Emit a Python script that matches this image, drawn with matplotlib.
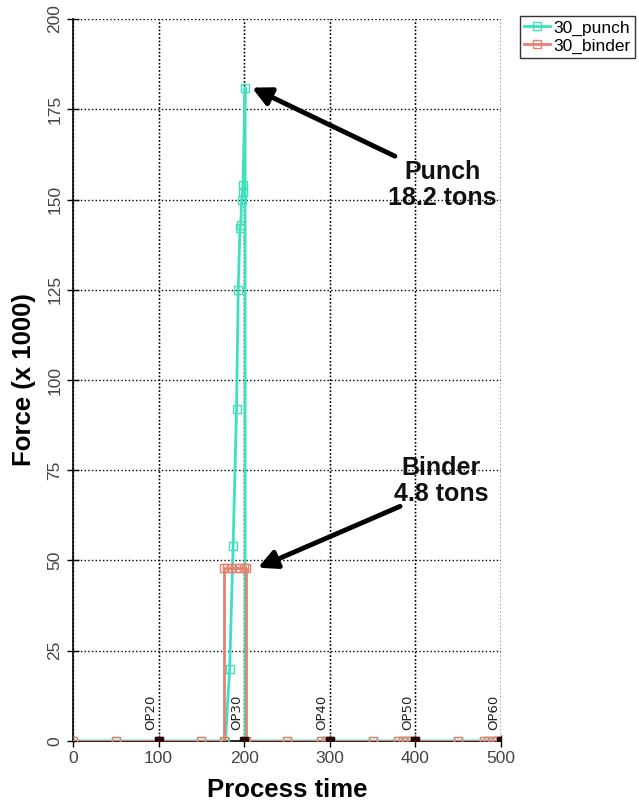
import matplotlib.pyplot as plt
import numpy as np

# punch curve (x = process time, y = force x 1000)
punch_t = [0, 50, 100, 150, 178, 183, 187, 191, 193, 195, 196, 197, 198, 198.5, 201,
           201, 250, 290, 295, 300, 350, 380, 385, 390, 395, 400, 450, 480, 485, 490, 495, 500]
punch_f = [0, 0, 0, 0, 0, 20, 54, 92, 125, 142, 143, 150, 152, 154, 181,
           0, 0, 0, 0, 0, 0, 0, 0, 0, 0, 0, 0, 0, 0, 0, 0, 0]

# binder curve
binder_t = [0, 50, 100, 150, 176, 176, 180, 185, 190, 195, 200, 202, 202,
            250, 290, 295, 300, 350, 380, 385, 390, 395, 400, 450, 480, 485, 490, 495, 500]
binder_f = [0, 0, 0, 0, 0, 48, 48, 48, 48, 48, 48, 48, 0,
            0, 0, 0, 0, 0, 0, 0, 0, 0, 0, 0, 0, 0, 0, 0, 0]

# operation markers
op_names = ['OP20', 'OP30', 'OP40', 'OP50', 'OP60']
op_t = [100, 200, 300, 400, 500]

punch_col = '#3EE0BE'
binder_col = '#E5826F'

plt.rcParams['font.family'] = ['Liberation Sans', 'DejaVu Sans']

fig = plt.figure(figsize=(6.39, 8.10), dpi=100)
ax = fig.add_axes([0.1142, 0.0852, 0.6700, 0.8913])

ax.plot(punch_t, punch_f, color=punch_col, lw=2, marker='s', ms=6,
        mfc='none', mec=punch_col, mew=1, label='30_punch', zorder=3)
ax.plot(binder_t, binder_f, color=binder_col, lw=2, marker='s', ms=6,
        mfc='none', mec=binder_col, mew=1, label='30_binder', zorder=4)

for name, t in zip(op_names, op_t):
    ax.axvline(t, color='black', ls=':', lw=1, zorder=1)
    ax.text(t - 1.5, 3, name, rotation=90, ha='right', va='bottom', fontsize=9.5,
            family='DejaVu Sans', color='#222222')
    ax.plot(t, 0, marker='s', ms=6, color='#2a0505', zorder=5)

ax.set_xlim(0, 500)
ax.set_ylim(0, 200)
ax.set_xticks(np.arange(0, 501, 100))
ax.set_yticks(np.arange(0, 201, 25))
ax.grid(True, color='black', ls=':', lw=1)
ax.set_axisbelow(True)
for s in ['top', 'right']:
    ax.spines[s].set_visible(False)
ax.spines['left'].set_linewidth(1.2)
ax.spines['bottom'].set_linewidth(1.2)
ax.tick_params(direction='inout', length=8, width=1, labelsize=12.5, labelcolor='#444444')
plt.setp(ax.get_yticklabels(), rotation=90, va='center')

ax.set_xlabel('Process time', fontsize=18.5, fontweight='bold', labelpad=8)
ax.set_ylabel('Force (x 1000)', fontsize=18.5, fontweight='bold', labelpad=8)

# callouts
ax.text(431, 154, 'Punch\n18.2 tons', fontsize=18, fontweight='bold',
        ha='center', va='center', linespacing=1.1, color='#111111')
ax.annotate('', xy=(209, 181), xytext=(376, 162),
            arrowprops=dict(arrowstyle='-|>', color='black', lw=3.5, mutation_scale=28,
                            shrinkA=0, shrinkB=0))
ax.text(430, 72, 'Binder\n4.8 tons', fontsize=18, fontweight='bold',
        ha='center', va='center', linespacing=1.1, color='#111111')
ax.annotate('', xy=(216, 48), xytext=(382, 65),
            arrowprops=dict(arrowstyle='-|>', color='black', lw=3.5, mutation_scale=28,
                            shrinkA=0, shrinkB=0))

leg = fig.legend(loc='upper right', bbox_to_anchor=(635 / 639, 1 - 16 / 810),
                 fontsize=12.5, frameon=True, fancybox=False, edgecolor='black',
                 handlelength=1.5, handletextpad=0.2, borderpad=0.25, labelspacing=0.15,
                 borderaxespad=0)
leg.get_frame().set_linewidth(1)

plt.savefig('out.png', dpi=100)
plt.close()
